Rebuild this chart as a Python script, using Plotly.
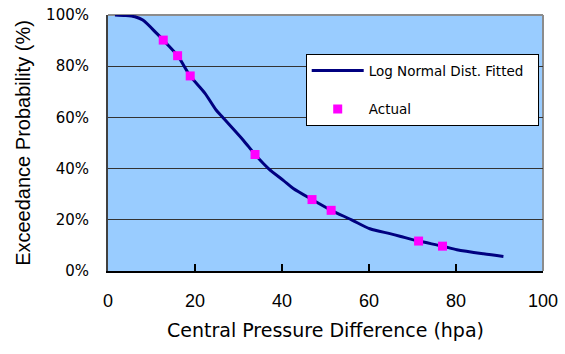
import plotly.graph_objects as go

# Fitted log-normal exceedance curve
x_fit = [1.6, 4.0, 6.2, 8.0, 11.2, 12.7, 16.0, 18.9, 22.3, 24.9, 26.5, 31.1, 33.8, 36.9,
         40.3, 42.6, 46.9, 51.3, 56.0, 60.2, 64.8, 67.1, 71.4, 76.9, 80.2, 86.3, 90.9]
y_fit = [100.0, 99.8, 99.3, 98.0, 92.8, 90.2, 84.1, 76.2, 69.4, 62.8, 59.8, 51.1, 45.5, 40.0,
         35.4, 32.2, 27.9, 23.7, 20.0, 16.5, 14.6, 13.6, 11.7, 9.7, 8.3, 6.7, 5.7]

# Actual observations
x_act = [12.7, 16.0, 18.9, 33.8, 46.9, 51.3, 71.4, 76.9]
y_act = [90.2, 84.1, 76.2, 45.5, 27.9, 23.7, 11.7, 9.7]

x_ticks = [0, 20, 40, 60, 80, 100]
y_ticks = [0, 20, 40, 60, 80, 100]

NB = "\u00a0"

fig = go.Figure()
fig.add_trace(go.Scatter(
    x=x_fit, y=y_fit, mode="lines", name="Log Normal Dist. Fitted" + NB * 2,
    line=dict(color="#000080", width=3, shape="spline", smoothing=0.8), legendgroup="a"))
fig.add_trace(go.Scatter(
    x=x_act, y=y_act, mode="markers", name="Actual",
    marker=dict(color="#FF00FF", symbol="square", size=9), legendgroup="b"))

fig.update_layout(
    template="none",
    width=565, height=354,
    margin=dict(l=108, r=22, t=15, b=83),
    paper_bgcolor="white",
    plot_bgcolor="#99CCFF",
    showlegend=True,
    legend=dict(
        x=0.4545, y=0.847, xanchor="left", yanchor="top",
        bgcolor="white", bordercolor="black", borderwidth=1,
        font=dict(family="DejaVu Sans", size=13.5, color="black"),
        itemwidth=52, tracegroupgap=18, traceorder="grouped",
    ),
    xaxis=dict(
        range=[0, 100], tickvals=x_ticks, ticktext=[str(v) for v in x_ticks],
        showgrid=False, zeroline=False,
        showline=True, linecolor="black", linewidth=2,
        ticks="inside", ticklen=7, tickwidth=1.5, tickcolor="black",
        ticklabelstandoff=12,
        tickfont=dict(family="Liberation Sans", size=18, color="black"),
        title=dict(text="Central Pressure Difference (hpa)", standoff=14,
                   font=dict(family="DejaVu Sans", size=19, color="black")),
        automargin=False,
    ),
    yaxis=dict(
        range=[0, 100], tickvals=y_ticks, ticktext=[f"{v}%" for v in y_ticks],
        showgrid=True, gridcolor="#333333", gridwidth=1.3, zeroline=False,
        showline=True, linecolor="#404040", linewidth=2,
        ticks="", ticklabelstandoff=14,
        tickfont=dict(family="DejaVu Sans", size=15, color="black"),
        title=dict(text="Exceedance Probability (%)", standoff=10,
                   font=dict(family="Liberation Sans", size=20, color="black")),
        automargin=False,
    ),
    shapes=[
        dict(type="line", xref="paper", yref="paper", x0=0, x1=1, y0=1, y1=1,
             line=dict(color="#8c8c8c", width=2), layer="between"),
        dict(type="line", xref="paper", yref="paper", x0=1, x1=1, y0=0, y1=1,
             line=dict(color="#8c8c8c", width=2), layer="between"),
    ],
)

fig.write_html("out.html")
